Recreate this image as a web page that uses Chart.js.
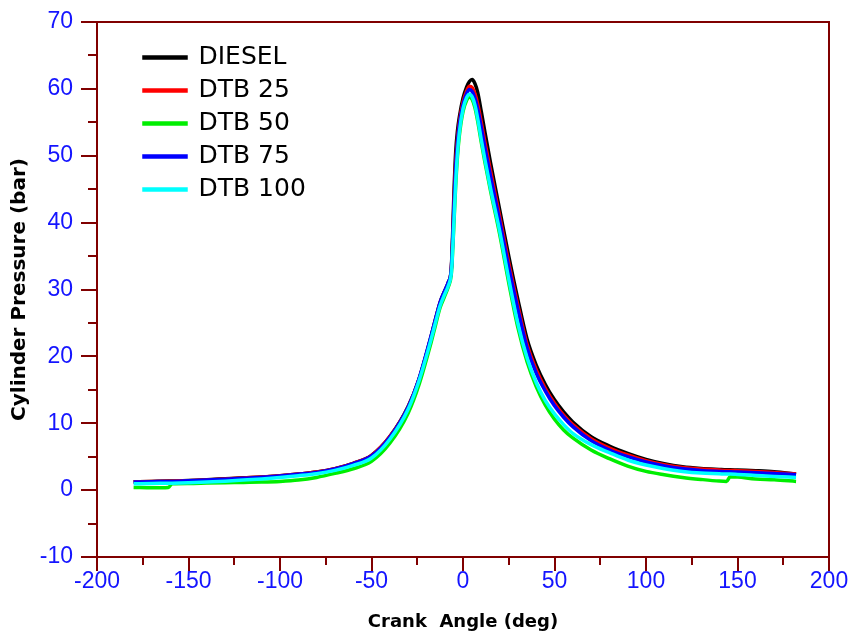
<!DOCTYPE html>
<html>
<head>
<meta charset="utf-8">
<script src="https://cdn.jsdelivr.net/npm/chart.js@4.4.1/dist/chart.umd.min.js"></script>
<style>
  body { margin: 0; background: #fff; }
  canvas { display: block; }
</style>
</head>
<body>
<canvas id="grafica" width="859" height="635"></canvas>
<script>
// crank angle (deg)
var angles = [-180, -170, -161, -159, -150, -140, -130, -120, -110, -100, -90, -80, -70, -60, -50, -40, -30, -24, -18, -15, -12.5, -10, -8, -6.5, -6, -5, -4, -3, -2, 0, 2, 3.5, 5, 6.5, 8, 10, 12, 15, 20, 25, 30, 35, 40, 45, 50, 55, 60, 70, 80, 90, 100, 110, 120, 130, 140, 144, 146, 150, 160, 170, 182];

// cylinder pressure (bar)
var diesel = [1.25, 1.3, 1.35, 1.35, 1.45, 1.55, 1.7, 1.85, 1.95, 2.15, 2.4, 2.7, 3.2, 4.0, 5.2, 8.0, 12.5, 16.6, 22.4, 25.6, 28.1, 29.8, 31.1, 32.8, 35.5, 44, 50.5, 53.8, 55.8, 58.6, 60.3, 61.1, 61.4, 60.8, 59.5, 56.6, 53.5, 49.0, 42.0, 35.0, 28.5, 22.6, 18.7, 15.8, 13.5, 11.7, 10.2, 8.0, 6.6, 5.5, 4.6, 3.95, 3.5, 3.25, 3.1, 3.05, 3.05, 3.0, 2.9, 2.75, 2.4];
var dtb25 = [1.25, 1.28, 1.32, 1.33, 1.42, 1.52, 1.66, 1.82, 1.95, 2.15, 2.4, 2.7, 3.2, 4.0, 5.2, 8.0, 12.4, 16.6, 22.3, 25.5, 28.0, 29.7, 31.0, 32.7, 35.0, 42.5, 49.0, 52.5, 55.0, 58.0, 59.7, 60.4, 60.2, 59.3, 57.8, 55.0, 52.0, 47.8, 41.0, 34.0, 27.6, 21.8, 18.0, 15.2, 13.0, 11.2, 9.8, 7.7, 6.3, 5.25, 4.4, 3.8, 3.4, 3.15, 3.0, 2.95, 2.95, 2.9, 2.8, 2.65, 2.4];
var dtb50 = [0.4, 0.35, 0.4, 0.95, 1.0, 1.05, 1.1, 1.15, 1.2, 1.3, 1.5, 1.9, 2.5, 3.2, 4.3, 7.0, 11.5, 15.8, 21.5, 24.7, 27.3, 29.0, 30.4, 32.0, 33.8, 39.6, 45.5, 50.0, 53.0, 56.6, 58.3, 58.8, 58.4, 57.2, 55.2, 52.0, 49.0, 44.8, 38.3, 31.0, 24.3, 19.2, 15.5, 12.7, 10.6, 9.0, 7.8, 6.0, 4.7, 3.6, 2.8, 2.3, 1.9, 1.6, 1.35, 1.3, 2.0, 1.95, 1.65, 1.55, 1.3];
var dtb75 = [1.22, 1.26, 1.3, 1.3, 1.4, 1.5, 1.63, 1.78, 1.92, 2.12, 2.37, 2.65, 3.15, 3.95, 5.1, 7.9, 12.4, 16.7, 22.5, 25.6, 28.1, 29.8, 31.1, 32.7, 35.0, 42.0, 48.2, 52.0, 54.6, 57.6, 59.3, 59.9, 59.6, 58.6, 57.0, 54.2, 51.2, 47.0, 40.3, 33.3, 27.0, 21.3, 17.5, 14.8, 12.6, 10.9, 9.5, 7.4, 6.0, 5.0, 4.2, 3.6, 3.2, 2.95, 2.8, 2.75, 2.75, 2.7, 2.6, 2.5, 2.3];
var dtb100 = [0.95, 1.0, 1.02, 1.03, 1.1, 1.2, 1.33, 1.5, 1.68, 1.9, 2.15, 2.45, 2.95, 3.7, 4.8, 7.6, 12.1, 16.4, 22.0, 25.1, 27.6, 29.3, 30.6, 32.2, 34.0, 40.0, 46.0, 50.5, 53.5, 57.0, 58.7, 59.2, 58.8, 57.6, 55.6, 52.4, 49.4, 45.2, 38.8, 31.6, 24.9, 19.8, 16.1, 13.4, 11.4, 9.8, 8.5, 6.8, 5.6, 4.5, 3.75, 3.2, 2.8, 2.55, 2.45, 2.4, 2.4, 2.35, 2.2, 2.05, 1.9];

var etiquetas = ["DIESEL", "DTB 25", "DTB 50", "DTB 75", "DTB 100"];
var colores = ["#000000", "#ff0000", "#00ee00", "#0000ff", "#00ffff"];

// minor ticks between labelled ones
var xMinor = [-175, -125, -75, -25, 25, 75, 125, 175];
var yMinor = [-5, 5, 15, 25, 35, 45, 55, 65];

var rojoEje = "#800000";
var azulTexto = "#1414ff";

function puntos(serie) {
    return angles.map(function(a, i) { return {x: a, y: serie[i]}; });
}

var series = [diesel, dtb25, dtb50, dtb75, dtb100];
var datasets = series.map(function(s, i) {
    return {
        label: etiquetas[i],
        data: puntos(s),
        borderColor: colores[i],
        backgroundColor: colores[i],
        borderWidth: 3.5,
        pointRadius: 0,
        cubicInterpolationMode: "monotone",
        order: 5 - i
    };
});

var marco = {
    id: "marco",
    beforeDraw: function(chart) {
        // legend sits inside the plot, a bit away from the corner
        chart.legend.left = chart.chartArea.left + 39;
        chart.legend.top = chart.chartArea.top + 15;
    },
    afterDraw: function(chart) {
        var ctx = chart.ctx, a = chart.chartArea;
        var sx = chart.scales.x, sy = chart.scales.y;
        ctx.save();
        ctx.strokeStyle = rojoEje;
        ctx.lineWidth = 2;
        ctx.beginPath();
        ctx.moveTo(a.left, a.top);
        ctx.lineTo(a.right, a.top);
        ctx.lineTo(a.right, a.bottom);
        xMinor.forEach(function(v) {
            var px = Math.round(sx.getPixelForValue(v));
            ctx.moveTo(px, a.bottom);
            ctx.lineTo(px, a.bottom + 8);
        });
        yMinor.forEach(function(v) {
            var py = Math.round(sy.getPixelForValue(v));
            ctx.moveTo(a.left, py);
            ctx.lineTo(a.left - 9, py);
        });
        ctx.stroke();
        ctx.restore();
    }
};

var ctx = document.getElementById("grafica").getContext("2d");
var chart = new Chart(ctx, {
    type: "line",
    data: { datasets: datasets },
    options: {
        responsive: false,
        animation: false,
        layout: { padding: { left: 0, right: 30, top: 22, bottom: 0 } },
        plugins: {
            tooltip: { enabled: false },
            legend: {
                position: "chartArea",
                align: "start",
                labels: {
                    boxWidth: 42,
                    boxHeight: 1,
                    padding: 8,
                    color: "#000",
                    font: { family: "DejaVu Sans", size: 25 },
                    sort: function(a, b) { return a.datasetIndex - b.datasetIndex; }
                }
            }
        },
        scales: {
            x: {
                type: "linear",
                min: -200,
                max: 200,
                afterFit: function(s) { s.height = 78; },
                ticks: { stepSize: 50, color: azulTexto, font: { family: "Liberation Sans", size: 23 }, padding: -3, maxRotation: 0 },
                grid: { drawOnChartArea: false, drawTicks: true, tickLength: 14, color: rojoEje, lineWidth: 2 },
                border: { display: true, color: rojoEje, width: 2 },
                title: { display: true, text: "Crank  Angle (deg)", color: "#000", font: { family: "DejaVu Sans", size: 18, weight: "bold" }, padding: { top: 0, bottom: 2 } }
            },
            y: {
                min: -10,
                max: 70,
                afterFit: function(s) { s.width = 97; },
                ticks: { stepSize: 10, color: azulTexto, font: { family: "Liberation Sans", size: 23 }, padding: 8 },
                grid: { drawOnChartArea: false, drawTicks: true, tickLength: 16, color: rojoEje, lineWidth: 2 },
                border: { display: true, color: rojoEje, width: 2 },
                title: { display: true, text: "Cylinder Pressure (bar)", color: "#000", font: { family: "DejaVu Sans", size: 20, weight: "bold" }, padding: { top: 8, bottom: 0 } }
            }
        }
    },
    plugins: [marco]
});
</script>
</body>
</html>
